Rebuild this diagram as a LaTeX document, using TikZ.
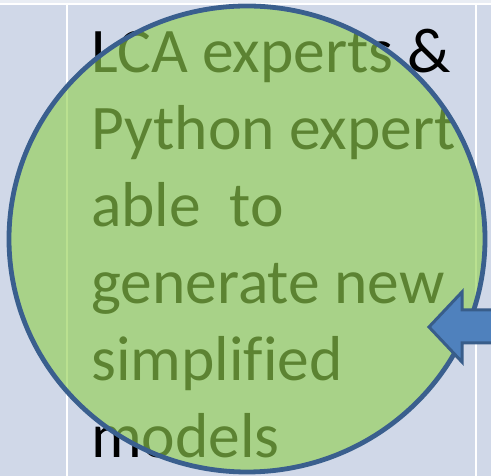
\documentclass[tikz,border=0pt]{standalone}
\usepackage{fontspec}
\setmainfont{Carlito}[Ligatures=NoCommon]
\definecolor{cellbg}{HTML}{D0D8E8}
\definecolor{topstrip}{HTML}{E9EDF4}
\definecolor{circfill}{HTML}{92D050}
\definecolor{circline}{HTML}{3A5F8E}
\definecolor{arrfill}{HTML}{4F81BD}
\definecolor{arrline}{HTML}{385D8A}
\tikzset{
  txt/.style={anchor=base west, inner sep=0pt, font=\fontsize{63.5}{77}\selectfont, text=black},
  gridline/.style={white, line width=2.6pt},
}
\begin{document}
\begin{tikzpicture}[x=1pt,y=1pt]
\useasboundingbox (0,0) rectangle (491,476);
\clip (0,0) rectangle (491,476);
% table background
\fill[cellbg] (0,0) rectangle (491,476);
\fill[topstrip] (0,473) rectangle (491,476);
\draw[gridline] (0,472) -- (491,472);
\draw[gridline] (67,0) -- (67,472);
\draw[gridline] (476,0) -- (476,472);
% text
\node[txt] (l1) at (91,403) {LCA experts \&};
\node[txt] (l2) at (91,326) {Python expert};
\node[txt] (l3) at (91,249) {able~~to};
\node[txt] (l4) at (91,172) {generate new};
\node[txt] (l5) at (91,95) {simplified};
\node[txt] (l6) at (91,18) {models};
% circle
\fill[circfill, fill opacity=0.63] (247,237) ellipse [x radius=238, y radius=233];
\draw[circline, line width=4.8pt] (247,237) ellipse [x radius=238, y radius=233];
% arrow
\draw[arrline, fill=arrfill, line width=3pt, line join=miter]
  (429,149) -- (462,184) -- (462,166) -- (500,166) -- (500,133) -- (462,133) -- (462,114) -- cycle;
\end{tikzpicture}
\end{document}
